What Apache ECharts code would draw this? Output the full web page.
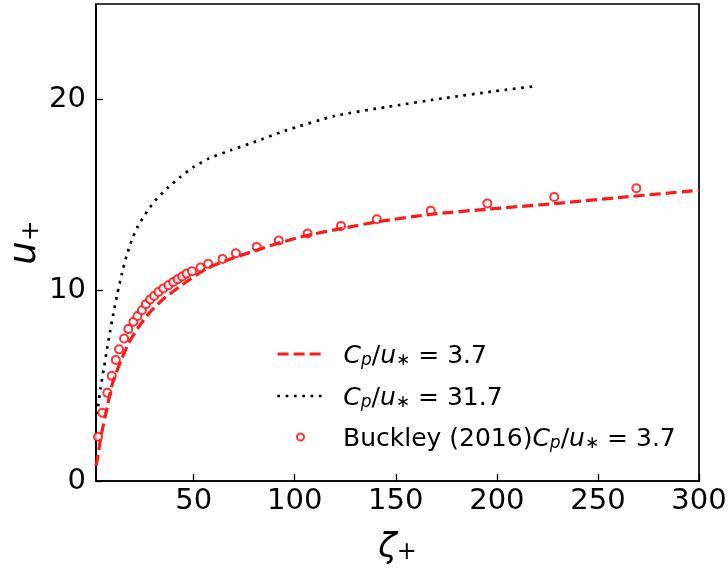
<!DOCTYPE html>
<html>
<head>
<meta charset="utf-8">
<script src="https://cdn.jsdelivr.net/npm/echarts@6/dist/echarts.min.js"></script>
<style>
html,body{margin:0;padding:0;background:#fff;}
#c{width:728px;height:571px;}
</style>
</head>
<body>
<div id="c"></div>
<script>
// Model curve, Cp/u* = 3.7 (red dashed)
const zetaModel37 = [1.7, 2.3, 4.3, 7.3, 9.8, 14, 18, 23, 28, 34.6, 41.3, 47.9, 56.7, 69.9, 79.8, 93, 106.4, 122.9, 140.6, 167.6, 195.8, 228.7, 260, 300];
const uModel37    = [0.8, 1.1, 2.4, 3.9, 5.1, 6.3, 7.25, 8.1, 8.8, 9.5, 10.05, 10.55, 11.15, 11.7, 12.05, 12.5, 12.88, 13.23, 13.58, 13.98, 14.25, 14.54, 14.85, 15.24];
// Model curve, Cp/u* = 31.7 (black dotted)
const zetaModel317 = [1.7, 2.7, 4.0, 5.5, 7.2, 8.6, 10.3, 12.3, 14.5, 16.9, 19.4, 22.2, 25.2, 28.5, 31.8, 37.6, 43.4, 50, 57.5, 68.3, 79.8, 95, 119.6, 145.3, 174.2, 199, 219.8];
const uModel317    = [3.5, 3.9, 4.9, 5.85, 6.95, 7.8, 8.78, 9.83, 10.87, 11.83, 12.62, 13.31, 13.84, 14.36, 14.8, 15.41, 15.93, 16.46, 16.9, 17.33, 17.76, 18.35, 19.13, 19.6, 20.07, 20.43, 20.7];
// Buckley (2016) data, Cp/u* = 3.7 (red circles)
const zetaBuckley = [2.7, 4.8, 7.3, 9.5, 11.5, 13.1, 15.6, 17.7, 20.2, 22.2, 24.4, 26.4, 28.5, 30.5, 32.6, 35, 37.5, 39.9, 42.1, 44.3, 46.5, 49.2, 53.4, 57.2, 64.3, 70.9, 81.2, 92.1, 106.4, 122.9, 140.6, 167.3, 195.3, 228.4, 269];
const uBuckley    = [2.32, 3.58, 4.62, 5.51, 6.34, 6.9, 7.47, 7.96, 8.34, 8.65, 8.95, 9.27, 9.51, 9.7, 9.91, 10.09, 10.26, 10.43, 10.58, 10.72, 10.87, 10.99, 11.19, 11.38, 11.64, 11.94, 12.27, 12.6, 12.97, 13.37, 13.72, 14.17, 14.55, 14.89, 15.34];
// Axes
const xTicks = [50, 100, 150, 200, 250, 300];
const yTicks = [0, 10, 20];
const xRange = [1.7, 300];
const yRange = [0, 25];
const seriesNames = ['Cp/u*=3.7', 'Cp/u*=31.7', 'Buckley (2016)Cp/u*=3.7'];

const zip = (a, b) => a.map((v, i) => [v, b[i]]);
const FONT = 'DejaVu Sans';

const richLegend = {
  n:  {fontFamily: FONT, fontSize: 25, lineHeight: 30, color: '#000', verticalAlign: 'bottom'},
  it: {fontFamily: FONT, fontSize: 25, fontStyle: 'italic', lineHeight: 30, color: '#000', verticalAlign: 'bottom'},
  sb: {fontFamily: FONT, fontSize: 17, fontStyle: 'italic', lineHeight: 14, color: '#000', verticalAlign: 'bottom'},
  ss: {fontFamily: FONT, fontSize: 17, lineHeight: 14, color: '#000', verticalAlign: 'bottom'}
};
const cpu = '{it|C}{sb|p}{n|/}{it|u}{ss|∗}';
const legendText = {};
legendText[seriesNames[0]] = cpu + '{n| = 3.7}';
legendText[seriesNames[1]] = cpu + '{n| = 31.7}';
legendText[seriesNames[2]] = '{n|Buckley (2016)}' + cpu + '{n| = 3.7}';

const redLine = {color: '#ff1a1a', width: 3.2, type: [11, 5], cap: 'butt'};
const blackLine = {color: '#000', width: 2.7, type: [2.7, 5.6], cap: 'butt'};

function mkLegend(name, left, top, h, lineStyle) {
  const lg = {
    data: [name], left: left, top: top, orient: 'horizontal', padding: 0,
    itemWidth: 47, itemHeight: h, selectedMode: false,
    formatter: n => legendText[n],
    textStyle: {padding: [0, 0, 0, 14], rich: richLegend}
  };
  if (lineStyle) {
    lg.itemStyle = {opacity: 0};
    lg.lineStyle = Object.assign({}, lineStyle);
  }
  return lg;
}

const chart = echarts.init(document.getElementById('c'), null, {renderer: 'canvas'});
chart.setOption({
  animation: false,
  backgroundColor: '#fff',
  grid: {left: 96, right: 29, top: 4, bottom: 90, containLabel: false, outerBoundsMode: 'none',
         show: true, borderColor: '#000', borderWidth: 1.7, backgroundColor: 'transparent'},
  legend: [
    mkLegend(seriesNames[0], 276, 344, 14, redLine),
    mkLegend(seriesNames[1], 276, 386, 14, blackLine),
    mkLegend(seriesNames[2], 296, 427, 7, null)
  ],
  xAxis: {
    type: 'value', min: xRange[0], max: xRange[1],
    name: '{z|ζ}{s|+}', nameLocation: 'middle', nameGap: 44,
    nameTextStyle: {rich: {
      z: {fontFamily: FONT, fontSize: 34, fontStyle: 'italic', color: '#000', lineHeight: 40, verticalAlign: 'bottom'},
      s: {fontFamily: FONT, fontSize: 24, color: '#000', lineHeight: 26, verticalAlign: 'bottom'}
    }},
    axisLine: {show: true, lineStyle: {color: '#000', width: 1.7}},
    axisTick: {show: true, inside: true, length: 7, customValues: xTicks, lineStyle: {color: '#000', width: 1.3}},
    axisLabel: {customValues: xTicks, color: '#000', fontFamily: FONT, fontSize: 29, margin: 6},
    splitLine: {show: false}
  },
  yAxis: {
    type: 'value', min: yRange[0], max: yRange[1],
    name: '{u|u}{s|+}', nameLocation: 'middle', nameRotate: 90, nameGap: 52, nameMoveOverlap: false,
    nameTextStyle: {rich: {
      u: {fontFamily: FONT, fontSize: 37, fontStyle: 'italic', color: '#000', lineHeight: 42, verticalAlign: 'bottom'},
      s: {fontFamily: FONT, fontSize: 25, color: '#000', lineHeight: 30, verticalAlign: 'bottom'}
    }},
    axisLine: {show: true, lineStyle: {color: '#000', width: 1.7}},
    axisTick: {show: true, inside: true, length: 7, customValues: yTicks, lineStyle: {color: '#000', width: 1.3}},
    axisLabel: {customValues: yTicks, color: '#000', fontFamily: FONT, fontSize: 29, margin: 10},
    splitLine: {show: false}
  },
  series: [
    {
      name: seriesNames[2], type: 'scatter', z: 1,
      data: zip(zetaBuckley, uBuckley),
      symbol: 'emptyCircle', symbolSize: 8,
      itemStyle: {color: '#ff0000', borderColor: '#ff0000', borderWidth: 1.8}
    },
    {
      name: seriesNames[0], type: 'line', z: 3, smooth: 0.2, symbol: 'none',
      data: zip(zetaModel37, uModel37),
      lineStyle: redLine,
      itemStyle: {color: '#ff1a1a'}
    },
    {
      name: seriesNames[1], type: 'line', z: 3, smooth: 0.2, symbol: 'none',
      data: zip(zetaModel317, uModel317),
      lineStyle: blackLine,
      itemStyle: {color: '#000'}
    }
  ]
});
</script>
</body>
</html>
